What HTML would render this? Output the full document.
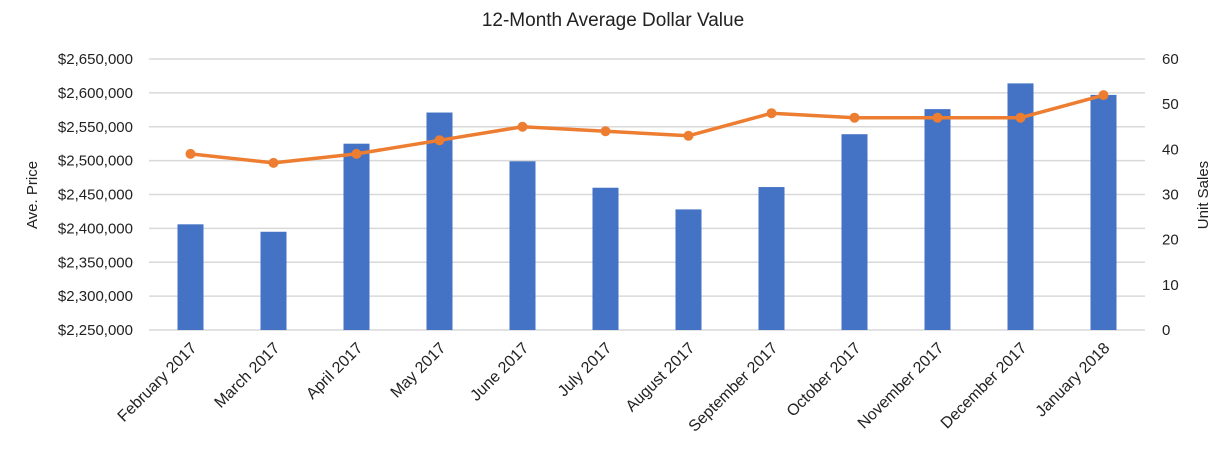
<!DOCTYPE html>
<html><head><meta charset="utf-8"><style>
body{margin:0;background:#fff;}
svg{display:block;font-family:"Liberation Sans",Calibri,sans-serif;}
</style></head><body>
<svg id="chart" width="1226" height="452">
<text x="613" y="26" text-anchor="middle" font-size="19" fill="#222">12-Month Average Dollar Value</text>
<g id="grid"></g>
<g id="bars"></g>
<g id="line"></g>
<g id="ylab"></g>
<g id="y2lab"></g>
<g id="xlab"></g>
<text transform="translate(37,195) rotate(-90)" text-anchor="middle" font-size="15" fill="#222">Ave. Price</text>
<text transform="translate(1208,195) rotate(-90)" text-anchor="middle" font-size="15" fill="#222">Unit Sales</text>
</svg>
<script>
const categories=["February 2017","March 2017","April 2017","May 2017","June 2017","July 2017","August 2017","September 2017","October 2017","November 2017","December 2017","January 2018"];
const avgPrice=[2406000,2395000,2525000,2571000,2499000,2460000,2428000,2461000,2539000,2576000,2614000,2597000];
const unitSales=[39,37,39,42,45,44,43,48,47,47,47,52];
const priceTicks=[2250000,2300000,2350000,2400000,2450000,2500000,2550000,2600000,2650000];
const salesTicks=[0,10,20,30,40,50,60];
const NS="http://www.w3.org/2000/svg";
const L=149,R=1145,T=59,B=330;
const band=(R-L)/categories.length;
const xC=i=>L+band*(i+0.5);
const yP=v=>B-(v-2250000)/(2650000-2250000)*(B-T);
const yS=v=>B-(v/60)*(B-T);
function mk(tag,attrs,parent){const e=document.createElementNS(NS,tag);for(const k in attrs)e.setAttribute(k,attrs[k]);parent.appendChild(e);return e;}
const grid=document.getElementById('grid'),bars=document.getElementById('bars'),line=document.getElementById('line');
const ylab=document.getElementById('ylab'),y2lab=document.getElementById('y2lab'),xlab=document.getElementById('xlab');
priceTicks.forEach(t=>{
 const g=mk('line',{x1:L,x2:R,y1:yP(t),y2:yP(t),stroke:'#d9d9d9','stroke-width':1.5},grid);
 
 
 const tx=mk('text',{x:133,y:yP(t)+5,'text-anchor':'end','font-size':15,fill:'#222'},ylab);
 tx.textContent='$'+t.toLocaleString('en-US');
 
 
});
salesTicks.forEach(t=>{
 const tx=mk('text',{x:1162,y:yS(t)+5,'font-size':15,fill:'#222'},y2lab);
 tx.textContent=t;
 
 
});
avgPrice.forEach((v,i)=>{
 const r=mk('rect',{x:xC(i)-13,y:yP(v),width:26,height:B-yP(v),fill:'#4472c4'},bars);
 
 
});
const pts=unitSales.map((v,i)=>xC(i)+','+yS(v)).join(' ');
const pl=mk('polyline',{points:pts,fill:'none',stroke:'#ed7d31','stroke-width':3.5,'stroke-linejoin':'round'},line);


unitSales.forEach((v,i)=>{
 const c=mk('circle',{cx:xC(i),cy:yS(v),r:5,fill:'#ed7d31'},line);
 
 
});
categories.forEach((c,i)=>{
 const tx=mk('text',{transform:`translate(${xC(i)+7},${349}) rotate(-45)`,'text-anchor':'end','font-size':16,fill:'#222'},xlab);
 tx.textContent=c;
 
 
});
</script>
</body></html>
